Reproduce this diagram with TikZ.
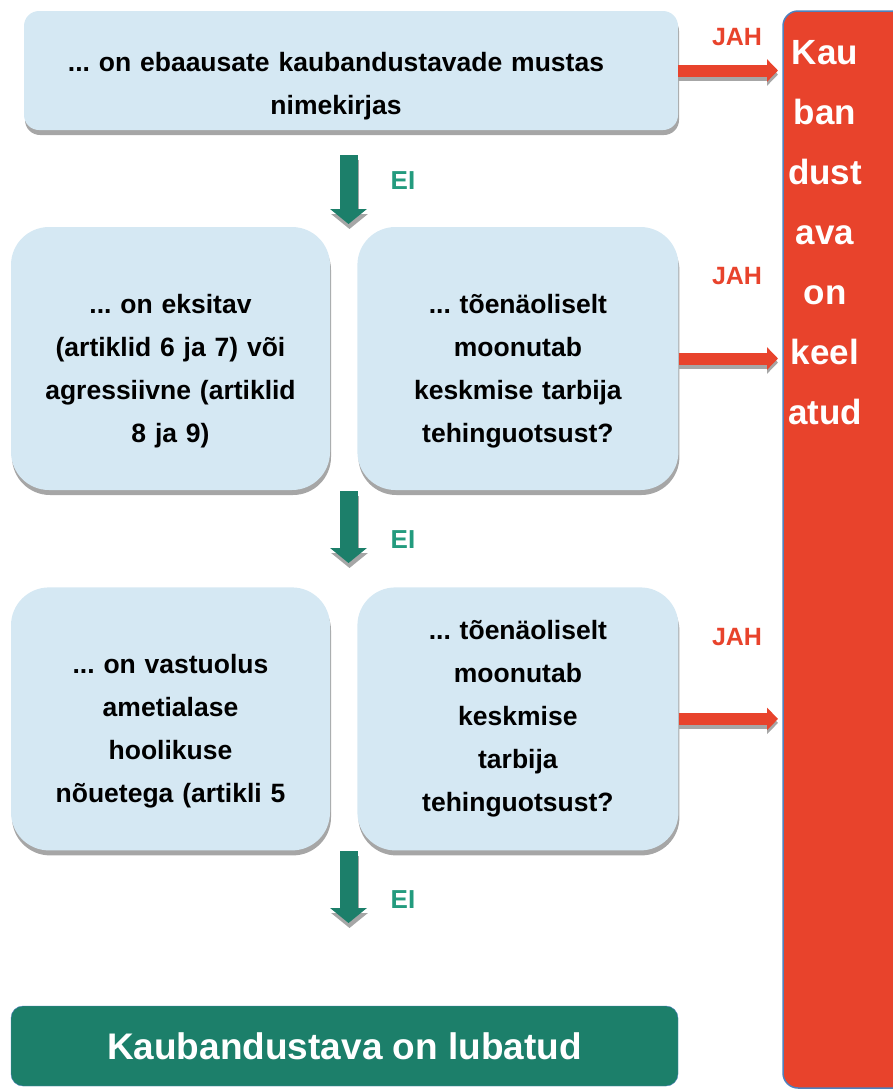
\documentclass[tikz,border=0pt]{standalone}
\usepackage{fontspec}
\setmainfont{Liberation Sans}
\usepackage{tikz}
\usetikzlibrary{positioning,shadows,arrows.meta}
\definecolor{boxblue}{RGB}{213,232,243}
\definecolor{eigreen}{RGB}{28,127,106}
\definecolor{eitext}{RGB}{35,155,126}
\definecolor{jahred}{RGB}{232,67,44}
\definecolor{edgeblue}{RGB}{79,129,189}
\definecolor{shade}{RGB}{166,166,166}
\frenchspacing

\begin{document}
\begin{tikzpicture}[x=1pt,y=-1pt]
  \tikzstyle{ask}=[rectangle,rounded corners=38pt,fill=boxblue,inner sep=0pt,
      minimum width=319pt,minimum height=263pt,text width=290pt,align=center,
      font=\fontsize{26.5}{43}\selectfont\bfseries,
      drop shadow={shadow xshift=1pt,shadow yshift=-5pt,fill=shade,opacity=1}]
  \tikzstyle{asklow}=[ask,text height=44pt]
  \tikzstyle{jah}=[text=jahred,font=\fontsize{25}{30}\selectfont\bfseries]
  \tikzstyle{ei}=[text=eitext,font=\fontsize{26}{30}\selectfont\bfseries]
  \tikzstyle{jaharrow}=[draw=jahred,line width=12pt,-{Triangle[length=11pt,width=22pt]}]
  \tikzstyle{eiarrow}=[draw=eigreen,line width=18pt,-{Triangle[length=15pt,width=36pt]}]

  \useasboundingbox (0,0) rectangle (893,1090);

  % keelatud column
  \draw[edgeblue,line width=1.5pt,fill=jahred,rounded corners=15pt]
    (893,11) -| (783,1088) -- (893,1088);
  \node[text=white,align=center,inner sep=0pt,anchor=north,
        font=\fontsize{35}{60}\selectfont\bfseries] (keel) at (825,40)
        {Kau\\ban\\dust\\ava\\on\\keel\\atud};
  \coordinate (col) at (778,0);

  \node[asklow,rounded corners=15pt,minimum width=654pt,minimum height=119pt,
        text width=620pt,text height=50pt,
        execute at begin node={\advance\rightskip 30pt}] (q1) at (351,70.5)
        {... on ebaausate kaubandustavade mustas\\nimekirjas};
  \node[asklow] (q2) at (170.5,358.5)
        {... on eksitav\\(artiklid 6 ja 7) või\\agressiivne (artiklid\\8 ja 9)};
  \node[asklow,minimum width=321pt] (q3) [right=27pt of q2]
        {... tõenäoliselt\\moonutab\\keskmise tarbija\\tehinguotsust?};
  \node[asklow] (q4) [below=97pt of q2]
        {... on vastuolus\\ametialase\\hoolikuse\\nõuetega (artikli 5};
  \node[ask,minimum width=321pt] (q5) [right=27pt of q4]
        {... tõenäoliselt\\moonutab\\keskmise\\tarbija\\tehinguotsust?};

  \node[rectangle,rounded corners=12pt,fill=eigreen,draw=edgeblue,
        minimum width=667pt,minimum height=80pt,text=white,
        font=\fontsize{37}{45}\selectfont\bfseries] (ok) at (344.5,1046)
        {Kaubandustava on lubatud};

  % JAH
  \node[jah] (jah1) at (737,37) {JAH};
  \node[jah] (jah2) at (737,276) {JAH};
  \node[jah] (jah3) at (737,637) {JAH};
  \foreach \q in {q1,q3,q5}{
    \draw[jaharrow,draw=shade,transform canvas={yshift=-4pt}] (\q.east) -- (\q.east -| col);
    \draw[jaharrow] (\q.east) -- (\q.east -| col);
  }

  % EI
  \coordinate (d1) at (348.5,155);
  \coordinate (t1) at (348.5,224);
  \coordinate (d2) at (348.5,491);
  \coordinate (t2) at (348.5,563);
  \coordinate (d3) at (348.5,851);
  \coordinate (t3) at (348.5,923);
  \node[ei] (ei1) at (403,181) {EI};
  \node[ei] (ei2) at (403,540) {EI};
  \node[ei] (ei3) at (403,900) {EI};
  \foreach \i in {1,2,3}{
    \draw[eiarrow,draw=shade,transform canvas={shift={(1pt,-5pt)}}] (d\i) -- (t\i);
    \draw[eiarrow] (d\i) -- (t\i);
  }
\end{tikzpicture}
\end{document}
